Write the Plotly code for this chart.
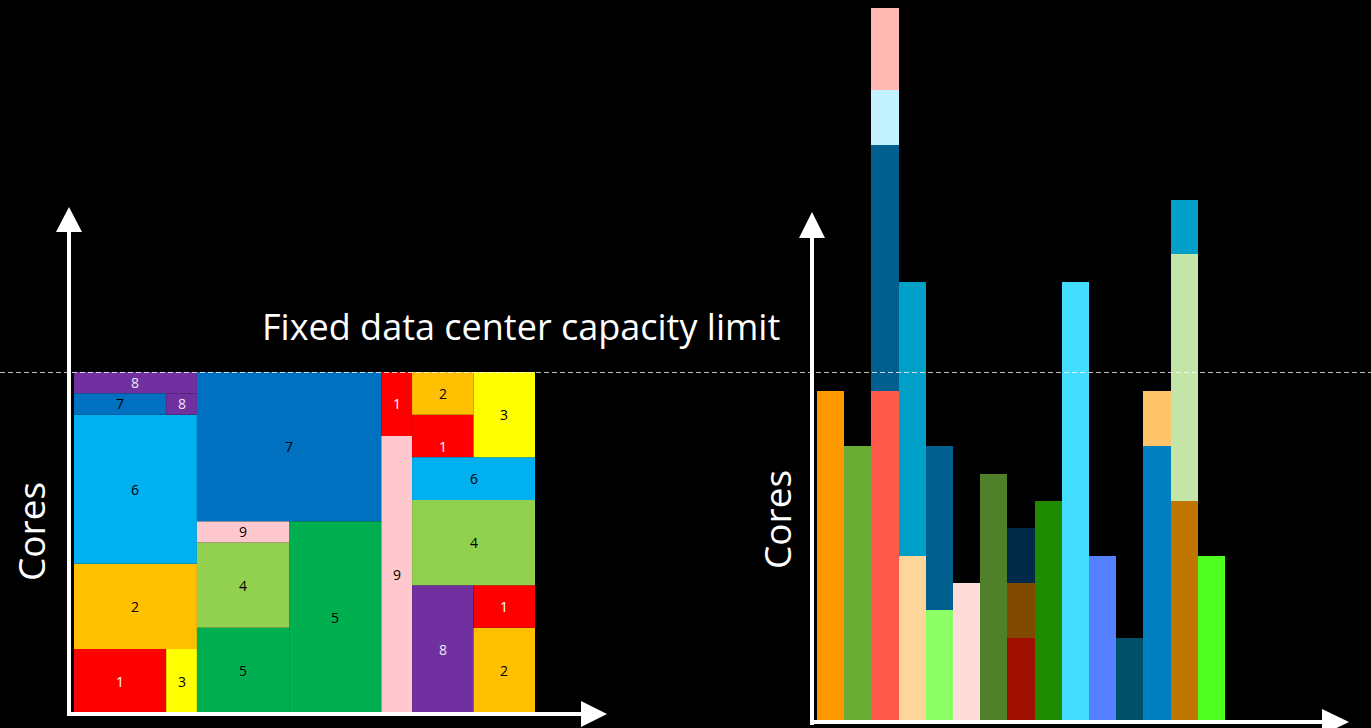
import plotly.graph_objects as go

# ---------------- data ----------------
# Left chart: packed jobs inside a fixed capacity (time units x cores)
CAPACITY = 16
job_ids  = [1, 3, 2, 6, 7, 8, 8, 5, 5, 4, 9, 7, 9, 1, 1, 1, 8, 2, 1, 4, 6, 2, 3]
job_x0   = [0, 3, 0, 0, 0, 3, 0, 4, 7, 4, 4, 4, 10, 10, 11, 11, 11, 13, 13, 11, 11, 11, 13]
job_x1   = [3, 4, 4, 4, 3, 4, 4, 7, 10, 7, 7, 10, 11, 11, 13, 13, 13, 15, 15, 15, 15, 13, 15]
job_y0   = [0, 0, 3, 7, 14, 14, 15, 0, 0, 4, 8, 9, 0, 13, 13, 12, 0, 0, 4, 6, 10, 14, 12]
job_y1   = [3, 3, 7, 14, 15, 15, 16, 4, 9, 8, 9, 16, 13, 16, 14, 13, 6, 4, 6, 10, 12, 16, 16]
job_lab  = ["1", "3", "2", "6", "7", "8", "8", "5", "5", "4", "9", "7", "9", "1", "", "1",
            "8", "2", "1", "4", "6", "2", "3"]

# Right chart: per-server core demand, stacked segments
servers  = list(range(15))
layer1   = [12, 10, 12, 6, 4, 5, 9, 3, 8, 16, 6, 3, 10, 8, 6]
layer2   = [0, 0, 9, 10, 6, 0, 0, 2, 0, 0, 0, 0, 2, 9, 0]
layer3   = [0, 0, 2, 0, 0, 0, 0, 2, 0, 0, 0, 0, 0, 2, 0]
layer4   = [0, 0, 3, 0, 0, 0, 0, 0, 0, 0, 0, 0, 0, 0, 0]

title_text = "Fixed data center capacity limit"
axis_text = "Cores"

# ---------------- styles ----------------
job_colors = {1: "#FF0000", 2: "#FFC000", 3: "#FFFF00", 4: "#92D050", 5: "#00B050",
              6: "#00B0F0", 7: "#0070C0", 8: "#7030A0", 9: "#FFC7CE"}
label_color = {1: "white", 8: "#EEE6F5"}

col1 = ["#FF9900", "#6AAD35", "#FF5A4A", "#FFD699", "#8CFF66", "#FFDCDA", "#50802A",
        "#A01000", "#1E8A00", "#44DDFF", "#5580FF", "#005068", "#0080C0", "#C07500", "#50FF20"]
col2 = ["#000", "#000", "#005F8E", "#00A0C8", "#005F8E", "#000", "#000", "#7F4A00",
        "#000", "#000", "#000", "#000", "#FFC469", "#C4E5A8", "#000"]
col3 = ["#000", "#000", "#C2F2FF", "#000", "#000", "#000", "#000", "#002A48",
        "#000", "#000", "#000", "#000", "#000", "#00A0C8", "#000"]
col4 = ["#000", "#000", "#FFB9B0"] + ["#000"] * 12

W, H = 1371, 728
FONT = "Open Sans"


def px(x):
    return x / W


def py(y):
    return 1 - y / H


fig = go.Figure()

# right bars
for vals, cols in [(layer1, col1), (layer2, col2), (layer3, col3), (layer4, col4)]:
    fig.add_trace(go.Bar(x=servers, y=vals, marker=dict(color=cols, line=dict(width=0)),
                         xaxis="x2", yaxis="y2", showlegend=False, hoverinfo="skip"))

# invisible trace to activate left axes
fig.add_trace(go.Scatter(x=[0], y=[0], mode="markers", marker=dict(opacity=0),
                         showlegend=False, hoverinfo="skip", xaxis="x", yaxis="y"))

shapes = []
annotations = []
for j, a, b, c, d, lab in zip(job_ids, job_x0, job_x1, job_y0, job_y1, job_lab):
    shapes.append(dict(type="rect", xref="x", yref="y", x0=a, x1=b, y0=c, y1=d,
                       fillcolor=job_colors[j], line=dict(width=0), layer="below"))
    if lab:
        annotations.append(dict(x=(a + b) / 2, y=(c + d) / 2, xref="x", yref="y",
                                text=lab, showarrow=False, xanchor="center", yanchor="middle",
                                font=dict(family=FONT, size=14,
                                          color=label_color.get(j, "black"))))

# capacity line (left chart capacity level, across the page)
shapes.append(dict(type="line", xref="paper", yref="y", x0=0, x1=1, y0=CAPACITY, y1=CAPACITY,
                   line=dict(color="white", width=1.3, dash="5px,3px")))


# axis arrows
def arrow_up(x, ytop_base, ybot, tip):
    shapes.append(dict(type="line", xref="paper", yref="paper", x0=px(x), x1=px(x),
                       y0=py(ybot), y1=py(ytop_base), line=dict(color="white", width=4)))
    path = f"M {px(x-13)},{py(ytop_base)} L {px(x+13)},{py(ytop_base)} L {px(x)},{py(tip)} Z"
    shapes.append(dict(type="path", xref="paper", yref="paper", path=path,
                       fillcolor="white", line=dict(width=0)))


def arrow_right(y, x0, xbase, tip):
    shapes.append(dict(type="line", xref="paper", yref="paper", x0=px(x0), x1=px(xbase),
                       y0=py(y), y1=py(y), line=dict(color="white", width=4)))
    path = f"M {px(xbase)},{py(y-13)} L {px(xbase)},{py(y+13)} L {px(tip)},{py(y)} Z"
    shapes.append(dict(type="path", xref="paper", yref="paper", path=path,
                       fillcolor="white", line=dict(width=0)))


arrow_up(69, 232, 716, 207)
arrow_right(714, 67, 581, 607)
arrow_up(812, 238, 725, 212)
arrow_right(722, 810, 1322, 1349)

annotations.append(dict(x=px(521), y=py(327), xref="paper", yref="paper", text=title_text,
                        showarrow=False, xanchor="center", yanchor="middle",
                        font=dict(family=FONT, size=36, color="white")))
annotations.append(dict(x=px(30), y=py(532), xref="paper", yref="paper", text=axis_text,
                        showarrow=False, textangle=-90, xanchor="center", yanchor="middle",
                        font=dict(family=FONT, size=37, color="white")))
annotations.append(dict(x=px(776), y=py(520), xref="paper", yref="paper", text=axis_text,
                        showarrow=False, textangle=-90, xanchor="center", yanchor="middle",
                        font=dict(family=FONT, size=37, color="white")))

fig.update_layout(
    width=W, height=H, margin=dict(l=0, r=0, t=0, b=0),
    paper_bgcolor="black", plot_bgcolor="rgba(0,0,0,0)",
    barmode="stack", bargap=0,
    xaxis=dict(domain=[px(74), px(535)], range=[0, 15], visible=False, fixedrange=True),
    yaxis=dict(domain=[py(713), py(372)], range=[0, CAPACITY], visible=False, fixedrange=True),
    xaxis2=dict(domain=[px(817), px(1225)], range=[-0.5, 14.5], visible=False,
                anchor="y2", fixedrange=True),
    yaxis2=dict(domain=[py(720), py(8)], range=[0, 26], visible=False,
                anchor="x2", fixedrange=True),
    shapes=shapes, annotations=annotations, showlegend=False,
)

fig.write_html("out.html", config={"displayModeBar": False},
               post_script="document.body.style.margin='0';"
                           "document.body.style.background='black';"
                           "document.body.style.overflow='hidden';")
